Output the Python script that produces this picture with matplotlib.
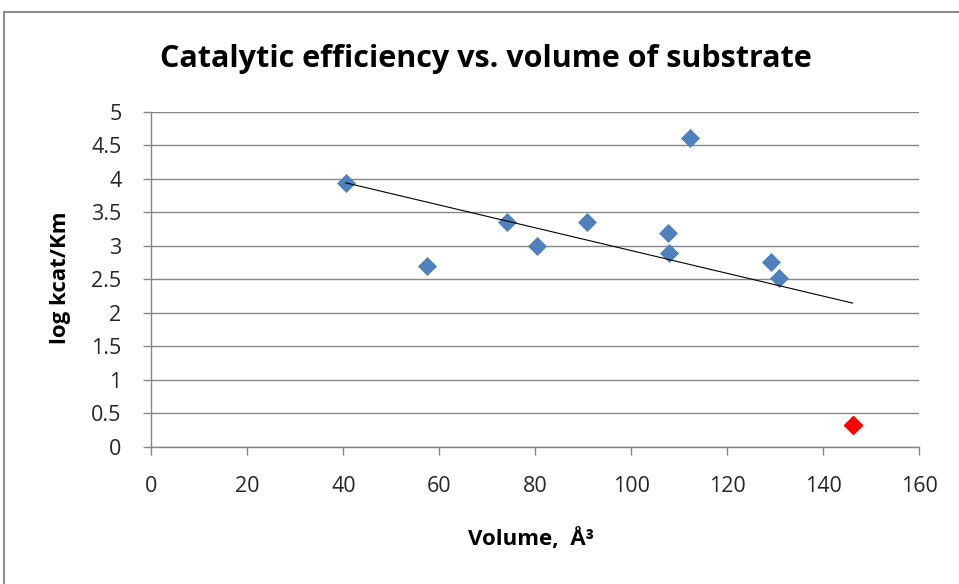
import numpy as np
import matplotlib
matplotlib.use("Agg")
import matplotlib.pyplot as plt
from matplotlib.patches import Rectangle

# Substrate volume (A^3) and log(kcat/Km)
volume = [40.5, 57.4, 74.2, 80.4, 90.8, 107.6, 107.9, 112.2, 129.0, 130.8]
log_eff = [3.93, 2.69, 3.35, 2.99, 3.35, 3.19, 2.89, 4.61, 2.75, 2.51]

# The largest substrate, highlighted in red
outlier_volume = [146.1]
outlier_log_eff = [0.32]

BLUE = "#4f81bd"
RED = "#ff0000"
GRID = "#868686"

plt.rcParams['font.family'] = ['Open Sans', 'DejaVu Sans']

fig = plt.figure(figsize=(9.59, 5.84), dpi=100)
ax = fig.add_axes([0.1578, 0.2354, 0.8008, 0.5733])

# outer chart border
fig.add_artist(Rectangle((4 / 959, -0.1), 1.2, 1 - 12 / 584 + 0.1,
                         transform=fig.transFigure, fill=False,
                         edgecolor="#8c8c8c", linewidth=1.5))

ax.plot(volume, log_eff, linestyle='none', marker='D', markersize=9.2,
        color=BLUE, markeredgecolor="#4a7ebb", markeredgewidth=0.5, zorder=3)
ax.plot(outlier_volume, outlier_log_eff, linestyle='none', marker='D',
        markersize=9.2, color=RED, markeredgecolor=RED, zorder=3)

# linear trendline over every point
all_x = np.array(volume + outlier_volume)
all_y = np.array(log_eff + outlier_log_eff)
slope, intercept = np.polyfit(all_x, all_y, 1)
xs = np.array([all_x.min(), all_x.max()])
ax.plot(xs, slope * xs + intercept, color="black", linewidth=0.8, zorder=4)

ax.set_xlim(0, 160)
ax.set_ylim(0, 5)
ax.set_xticks(np.arange(0, 161, 20))
ax.set_yticks(np.arange(0, 5.01, 0.5))
ax.set_yticklabels(["0", "0.5", "1", "1.5", "2", "2.5", "3", "3.5", "4", "4.5", "5"])

ax.grid(axis='y', color=GRID, linewidth=1.0)
ax.set_axisbelow(True)
for side in ("top", "right"):
    ax.spines[side].set_visible(False)
for side in ("left", "bottom"):
    ax.spines[side].set_color(GRID)
    ax.spines[side].set_linewidth(1.0)

ax.tick_params(axis='both', direction='out', length=5.5, width=1.0,
               color=GRID, labelsize=15.5, labelcolor="#262626")
ax.tick_params(axis='x', pad=16)
ax.tick_params(axis='y', pad=16)

fig.text(0.507, 0.899, "Catalytic efficiency vs. volume of substrate",
         ha='center', va='center', fontsize=22, fontweight='bold')

ax.set_xlabel("Volume,  Å³", fontsize=16, fontweight='bold')
ax.xaxis.set_label_coords(0.494, -0.277)
ax.xaxis.label.set_va('center')
ax.set_ylabel("log kcat/Km", fontsize=16, fontweight='bold')
ax.yaxis.set_label_coords(-0.118, 0.503)
ax.yaxis.label.set_va('center')

fig.savefig("out.png", dpi=100)
